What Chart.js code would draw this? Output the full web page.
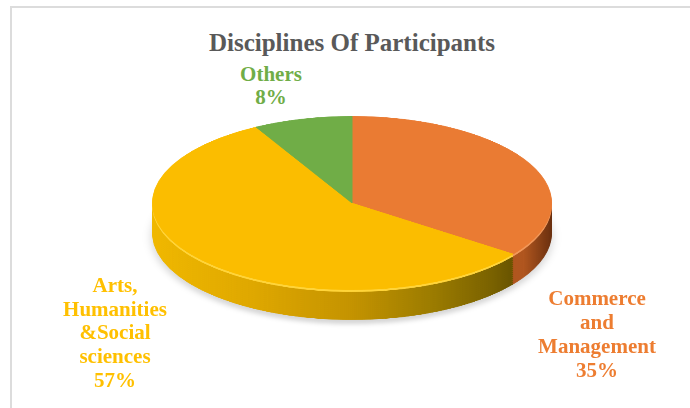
<!DOCTYPE html>
<html>
<head>
<meta charset="utf-8">
<script src="https://cdn.jsdelivr.net/npm/chart.js@4.4.1/dist/chart.umd.min.js"></script>
<style>
  html, body { margin: 0; padding: 0; background: #fff; }
  #stage { position: relative; width: 690px; height: 408px; overflow: hidden; background: #fff; }
  #frame { position: absolute; left: 10px; top: 6px; width: 700px; height: 420px; border: 2px solid #dcdcdc; }
  .layer { position: absolute; transform-origin: 50% 50%; }
  .txt { position: absolute; font-family: "Liberation Serif", "DejaVu Serif", serif; font-weight: bold; text-align: center; white-space: nowrap; }
</style>
</head>
<body>
<div id="stage"><div id="frame"></div></div>
<script>
// data, clockwise from 12 o'clock
const labels = ["Commerce and Management", "Arts, Humanities &Social sciences", "Others"];
const values = [35, 57, 8];
const labelLines = [["Commerce", "and", "Management"], ["Arts,", "Humanities", "&Social", "sciences"], ["Others"]];
const chartTitle = "Disciplines Of Participants";

const topColors = ["#ea7b33", "#fbbd00", "#70ad47"];
const rimColors = ["#f2995c", "#ffd43a", "#8cc266"];
const textColors = ["#ed7d31", "#ffc000", "#70ad47"];

// pie geometry (page px)
const CX = 352, CY = 203, R = 200, SY = 0.435, DEPTH = 30;

const stage = document.getElementById("stage");

function sideColor(ctx) {
  const g = ctx.chart.ctx.createLinearGradient(0, 0, 2 * R, 0);
  if (ctx.dataIndex === 0) {
    g.addColorStop(0, "#c8622a");
    g.addColorStop(0.93, "#b0561f");
    g.addColorStop(1, "#6a3010");
  } else if (ctx.dataIndex === 1) {
    g.addColorStop(0.0, "#f0b800");
    g.addColorStop(0.25, "#dfa800");
    g.addColorStop(0.5, "#c49300");
    g.addColorStop(0.7, "#9c7c00");
    g.addColorStop(0.85, "#7a6200");
    g.addColorStop(0.94, "#5c4a00");
  } else {
    g.addColorStop(0, "#4e7a30");
    g.addColorStop(1, "#4e7a30");
  }
  return g;
}

function addLayer(offset, colors, filter) {
  const wrap = document.createElement("div");
  wrap.className = "layer";
  wrap.style.left = (CX - R) + "px";
  wrap.style.top = (CY - R + offset) + "px";
  wrap.style.width = 2 * R + "px";
  wrap.style.height = 2 * R + "px";
  wrap.style.transform = "scaleY(" + SY + ")";
  if (filter) wrap.style.filter = filter;
  const canvas = document.createElement("canvas");
  canvas.width = 2 * R;
  canvas.height = 2 * R;
  wrap.appendChild(canvas);
  stage.appendChild(wrap);
  new Chart(canvas, {
    type: "pie",
    data: {
      labels: labels,
      datasets: [{ data: values, backgroundColor: colors, borderColor: colors, borderWidth: 1 }]
    },
    options: {
      responsive: false,
      animation: false,
      events: [],
      layout: { padding: 0 },
      plugins: { legend: { display: false }, tooltip: { enabled: false } }
    }
  });
}

// soft shadow, side of the disc, rim highlight, top face
addLayer(DEPTH + 4, ["rgba(0,0,0,0.16)", "rgba(0,0,0,0.16)", "rgba(0,0,0,0.16)"], "blur(5px)");
for (let off = DEPTH; off >= 4; off -= 2) addLayer(off, sideColor);
addLayer(2, rimColors);
addLayer(0, topColors);

// texts
function addText(lines, cx, top, size, lh, color) {
  const d = document.createElement("div");
  d.className = "txt";
  d.style.left = (cx - 150) + "px";
  d.style.width = "300px";
  d.style.top = top + "px";
  d.style.fontSize = size + "px";
  d.style.lineHeight = lh + "px";
  d.style.color = color;
  d.innerHTML = lines.join("<br>");
  stage.appendChild(d);
}

const total = values.reduce((a, b) => a + b, 0);
const pct = values.map(v => Math.round(v / total * 100) + "%");

addText([chartTitle], 352, 28, 25, 30, "#595959");
addText(labelLines[0].concat(pct[0]), 597, 286, 21, 24, textColors[0]);
addText(labelLines[1].concat(pct[1]), 115, 274, 21, 23.7, textColors[1]);
addText(labelLines[2].concat(pct[2]), 271, 63, 21, 23, textColors[2]);
</script>
</body>
</html>
